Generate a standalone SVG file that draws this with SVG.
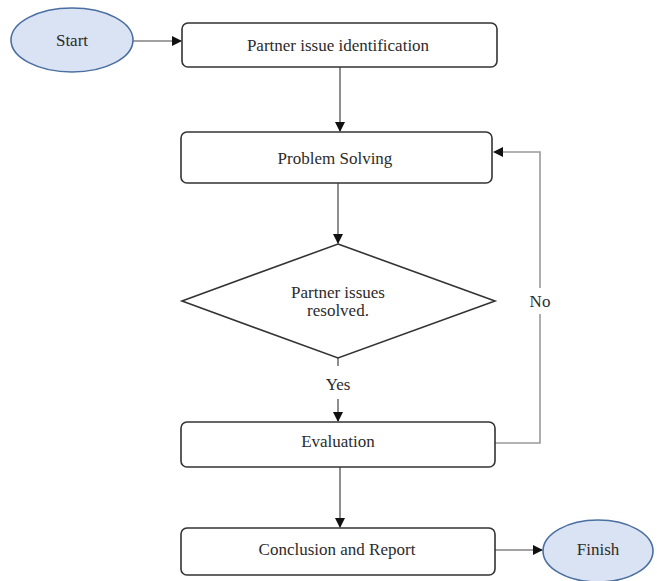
<svg xmlns="http://www.w3.org/2000/svg" width="657" height="581" viewBox="0 0 657 581">
<style>
.box{fill:#fff;stroke:#333;stroke-width:1.6}
.term{fill:#dae3f3;stroke:#4a6fa0;stroke-width:1.6}
.t{font-family:"Liberation Serif","Times New Roman",serif;font-size:17px;fill:#2b2b2b;text-anchor:middle;dominant-baseline:central}
.c{fill:none;stroke:#444;stroke-width:1.2}
.fb{fill:none;stroke:#999;stroke-width:1.6}
</style>
<defs>
<marker id="ah" markerWidth="10" markerHeight="10" refX="9" refY="5" orient="auto" markerUnits="userSpaceOnUse">
<path d="M0,0 L10,5 L0,10 z" fill="#111"/>
</marker>
</defs>
<rect width="657" height="581" fill="#fff"/>
<g id="connectors">
<path class="c" d="M133,41 H181" marker-end="url(#ah)"/>
<path class="c" d="M340,67 V131" marker-end="url(#ah)"/>
<path class="c" d="M338,183 V243" marker-end="url(#ah)"/>
<path class="c" d="M338,358 V366"/>
<path class="c" d="M338,399 V421" marker-end="url(#ah)"/>
<path class="fb" d="M495,443 H540 V314"/>
<path class="fb" d="M540,288 V152 H494" marker-end="url(#ah)"/>
<path class="c" d="M340,467 V527" marker-end="url(#ah)"/>
<path class="c" d="M495,550 H542" marker-end="url(#ah)"/>
<text class="t" x="338" y="384">Yes</text>
<text class="t" x="540" y="301">No</text>
</g>
<g id="start">
<ellipse class="term" cx="72" cy="40" rx="61" ry="32"/>
<text class="t" x="72" y="40">Start</text>
</g>
<g id="identification">
<rect class="box" x="182" y="23" width="315" height="44" rx="6"/>
<text class="t" x="338" y="45">Partner issue identification</text>
</g>
<g id="problem-solving">
<rect class="box" x="181" y="132" width="311" height="51" rx="6"/>
<text class="t" x="335" y="158">Problem Solving</text>
</g>
<g id="decision">
<polygon class="box" points="338,244 495,301 338,358 182,301"/>
<text class="t" x="338" y="292">Partner issues</text>
<text class="t" x="338" y="310">resolved.</text>
</g>
<g id="evaluation">
<rect class="box" x="181" y="422" width="314" height="45" rx="6"/>
<text class="t" x="338" y="441">Evaluation</text>
</g>
<g id="conclusion">
<rect class="box" x="181" y="528" width="314" height="47" rx="6"/>
<text class="t" x="337" y="549">Conclusion and Report</text>
</g>
<g id="finish">
<ellipse class="term" cx="598" cy="551" rx="55" ry="31"/>
<text class="t" x="598" y="549">Finish</text>
</g>
</svg>
